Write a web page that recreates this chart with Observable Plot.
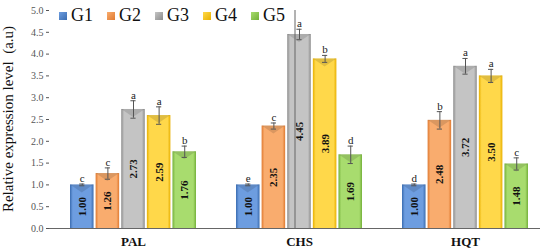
<!DOCTYPE html>
<html>
<head>
<meta charset="utf-8">
<script src="https://cdn.jsdelivr.net/npm/d3@7"></script>
<script src="https://cdn.jsdelivr.net/npm/@observablehq/plot@0.6"></script>
<style>
  html, body { margin: 0; padding: 0; background: #fff; }
  #wrap { position: relative; width: 550px; height: 250px; font-family: "Liberation Serif", serif; }
  #wrap svg text { font-family: "Liberation Serif", serif; }
  #legend { position: absolute; top: 5px; left: 59px; display: flex; gap: 14px; font-size: 18px; color: #111; font-family: "Liberation Serif", serif; }
  .item { display: flex; align-items: center; }
  .sw { width: 8px; height: 8px; margin-right: 4px; }
</style>
</head>
<body>
<div id="wrap"><div id="legend"></div></div>
<script>
const groups = ["PAL", "CHS", "HQT"];
const series = ["G1", "G2", "G3", "G4", "G5"];
const values = {
  PAL: [1.00, 1.26, 2.73, 2.59, 1.76],
  CHS: [1.00, 2.35, 4.45, 3.89, 1.69],
  HQT: [1.00, 2.48, 3.72, 3.50, 1.48]
};
const errors = {
  PAL: [0.02, 0.13, 0.20, 0.20, 0.13],
  CHS: [0.02, 0.07, 0.12, 0.08, 0.20],
  HQT: [0.02, 0.20, 0.18, 0.15, 0.14]
};
const letters = {
  PAL: ["c", "c", "a", "a", "b"],
  CHS: ["e", "c", "a", "b", "d"],
  HQT: ["d", "b", "a", "a", "c"]
};
const yTicks = [0, 0.5, 1, 1.5, 2, 2.5, 3, 3.5, 4, 4.5, 5];
const colors = [
  ["#3a6cb0", "#6d9de0"],
  ["#e07a30", "#f9ac6e"],
  ["#8c8c8c", "#c4c4c4"],
  ["#e8b000", "#ffd84a"],
  ["#74b03a", "#a8dc6e"]
];

const rows = [];
for (const g of groups) series.forEach((s, i) => rows.push({
  group: g, series: s, i, value: values[g][i], err: errors[g][i], letter: letters[g][i],
  lo: values[g][i] - errors[g][i], hi: values[g][i] + errors[g][i]
}));

const FONT = "Liberation Serif";
const xRange = [49, 549.5];
const pIn = 0.24, pOut = 0.12;
const bw = d3.scaleBand(groups, xRange).paddingInner(pIn).paddingOuter(pOut).bandwidth();
const inner = d3.scaleBand(series, [0, bw]).paddingInner(0.05).paddingOuter(0);

const marks = [];
series.forEach((s, i) => {
  const d = rows.filter(r => r.series === s);
  const left = inner(s), w = inner.bandwidth();
  const c = left + w / 2 - bw / 2;
  marks.push(Plot.barY(d, {x: "group", y: "value", fill: `url(#grad${i})`,
    insetLeft: left, insetRight: bw - left - w, className: "bar3d"}));
  marks.push(Plot.text(d, {x: "group", y: d => d.value / 2, text: d => d.value.toFixed(2), rotate: -90, dx: c,
    fontWeight: "bold", fontSize: 11, fill: "#111", fontFamily: FONT}));
  marks.push(Plot.ruleX(d, {x: "group", y1: "lo", y2: "hi", dx: c, stroke: "#555", strokeWidth: 1}));
  marks.push(Plot.tickY(d, {x: "group", y: "hi", stroke: "#555", strokeWidth: 1, insetLeft: bw / 2 + c - 3, insetRight: bw / 2 - c - 3}));
  marks.push(Plot.tickY(d, {x: "group", y: "lo", stroke: "#555", strokeWidth: 1, insetLeft: bw / 2 + c - 3, insetRight: bw / 2 - c - 3}));
  marks.push(Plot.text(d, {x: "group", y: "hi", text: "letter", dx: c, dy: -2, lineAnchor: "bottom",
    fontSize: 11, fill: "#222", fontFamily: FONT}));
});

const plot = Plot.plot({
  width: 550, height: 250,
  marginLeft: 49, marginRight: 10, marginTop: 10, marginBottom: 22,
  style: {fontFamily: FONT, background: "transparent"},
  x: {domain: groups, range: xRange, paddingInner: pIn, paddingOuter: pOut, axis: null},
  y: {domain: [0, 5], axis: null},
  marks: [
    ...marks,
    Plot.axisY({ticks: yTicks, tickFormat: d => d.toFixed(1), tickSize: 3, tickPadding: 3, fontSize: 10,
      color: "#555", label: null, fontFamily: FONT}),
    Plot.ruleX([0], {x: null, frameAnchor: "left", stroke: "#666"}),
    Plot.axisX({tickSize: 0, tickPadding: 8, fontSize: 13, fontWeight: "bold", color: "#111", label: null, fontFamily: FONT}),
    Plot.ruleY([0], {stroke: "#666"})
  ]
});

// gradients for the 3D look
const ns = "http://www.w3.org/2000/svg";
const defs = document.createElementNS(ns, "defs");
colors.forEach(([dark, light], i) => {
  const lg = document.createElementNS(ns, "linearGradient");
  lg.setAttribute("id", `grad${i}`);
  lg.setAttribute("x1", "0"); lg.setAttribute("x2", "1"); lg.setAttribute("y1", "0"); lg.setAttribute("y2", "0");
  [[0, dark], [0.12, light], [0.5, light], [0.88, light], [1, dark]].forEach(([o, col]) => {
    const st = document.createElementNS(ns, "stop");
    st.setAttribute("offset", o); st.setAttribute("stop-color", col);
    lg.appendChild(st);
  });
  defs.appendChild(lg);
});
plot.insertBefore(defs, plot.firstChild);

// top bevel (inverted triangle) on each bar, following the rendered rects
plot.querySelectorAll("g.bar3d rect, .bar3d rect").forEach(r => {
  const x = +r.getAttribute("x"), y = +r.getAttribute("y"), w = +r.getAttribute("width");
  const p = document.createElementNS(ns, "polygon");
  p.setAttribute("points", `${x},${y} ${x + w},${y} ${x + w / 2},${y + 8}`);
  p.setAttribute("fill", "#000");
  p.setAttribute("fill-opacity", "0.12");
  r.parentNode.appendChild(p);
});

const wrap = document.getElementById("wrap");
wrap.insertBefore(plot, wrap.firstChild);

// y axis title
const t = document.createElementNS(ns, "text");
t.setAttribute("transform", "translate(13,119) rotate(-90)");
t.setAttribute("text-anchor", "middle");
t.setAttribute("font-size", "15");
t.setAttribute("fill", "#111");
t.setAttribute("font-family", FONT);
t.textContent = "Relative expression level  (a.u)";
plot.appendChild(t);

// legend
const legend = document.getElementById("legend");
series.forEach((s, i) => {
  const it = document.createElement("div");
  it.className = "item";
  it.innerHTML = `<div class="sw" style="background:linear-gradient(135deg, ${colors[i][1]}, ${colors[i][0]})"></div><span>${s}</span>`;
  legend.appendChild(it);
});
</script>
</body>
</html>
